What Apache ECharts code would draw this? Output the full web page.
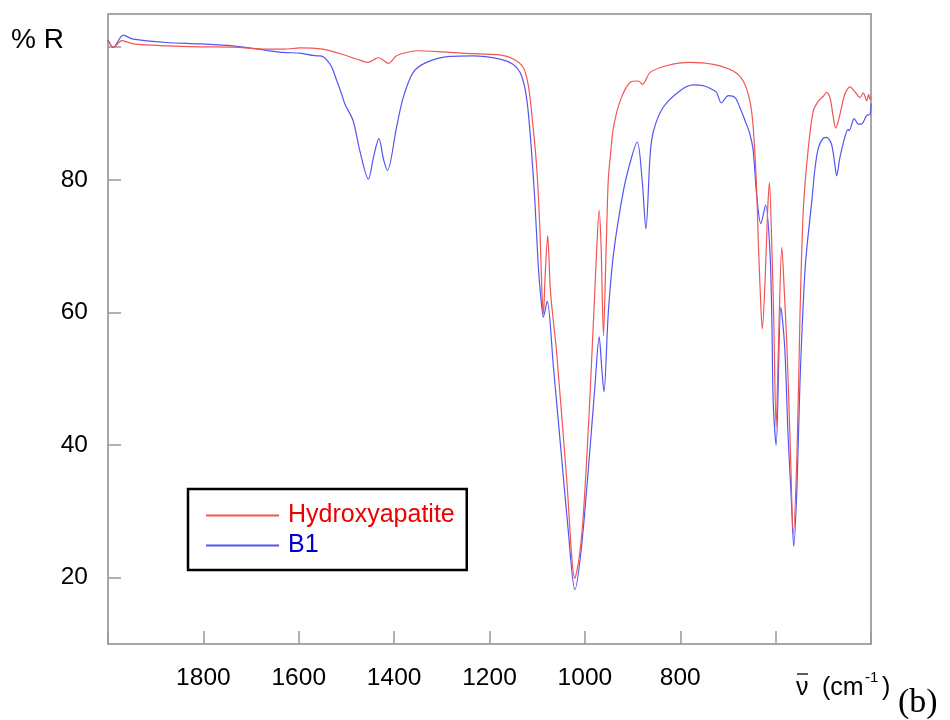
<!DOCTYPE html>
<html>
<head>
<meta charset="utf-8">
<script src="https://cdn.jsdelivr.net/npm/echarts@6/dist/echarts.min.js"></script>
<style>html,body{margin:0;padding:0;background:#fff}#c{width:950px;height:720px}</style>
</head>
<body>
<div id="c"></div>
<script>
// Hydroxyapatite (red)
const hapX = [2000,1989,1971,1947,1877,1807,1738,1667,1630,1597,1550,1513,1472,1454,1443,1433,1422,1412,1395,1374,1353,1300,1248,1178,1150,1129,1119,1112,1101,1094,1090,1087,1083,1078,1072,1059,1038,1021,1012,1003,989,975,970,966,961,956,951,946,940,926,905,888,879,863,829,780,731,689,668,654,647,640,636,631,628,622,617,613,608,604,599,593,587,581,576,569,563,555,549,542,532,521,510,500,493,486,479,474,465,455,444,433,423,416,409,405,402,400];
const hapY = [101.0,99.96,101.0,100.5,100.2,100.05,100.0,99.7,99.7,99.9,99.7,99.0,98.05,97.7,98.1,98.4,98.0,97.55,98.7,99.2,99.46,99.3,99.05,98.85,98.2,96.9,94.4,90.4,81.9,72.0,63.0,59.8,66.0,71.6,63.0,53.8,34.7,19.9,23.0,29.7,47.8,69.8,75.4,70.0,56.5,68.0,79.9,84.0,87.9,91.9,94.7,94.9,94.4,96.2,97.2,97.7,97.4,96.4,94.9,91.9,87.9,78.9,70.0,61.0,57.5,65.0,75.0,79.6,70.0,59.3,42.7,58.0,69.8,62.0,54.3,39.2,26.7,39.2,59.3,75.4,84.4,90.4,91.9,92.6,93.2,92.4,89.4,87.8,89.9,92.9,94.0,93.2,92.4,93.1,91.9,92.9,92.1,92.5];
// B1 (blue)
const b1X = [2000,1989,1968,1947,1877,1807,1738,1667,1632,1597,1562,1555,1534,1520,1510,1503,1486,1472,1454,1443,1432,1422,1414,1395,1381,1360,1332,1283,1234,1178,1150,1136,1126,1119,1112,1105,1098,1092,1087,1079,1066,1052,1035,1021,1007,989,979,970,965,960,951,940,919,902,890,880,872,863,856,836,801,773,752,738,724,714,699,685,675,664,654,647,640,631,621,612,608,605,599,589,581,574,567,562,555,549,538,524,517,510,500,493,483,476,472,465,455,448,446,437,435,427,420,409,402,400];
const b1Y = [101.1,99.96,101.8,101.2,100.7,100.5,100.2,99.5,99.2,99.1,98.7,98.7,97.4,94.9,92.9,91.4,88.9,84.4,80.1,83.5,86.2,83.0,81.4,87.9,92.4,96.2,97.7,98.6,98.7,98.2,97.4,96.2,93.9,90.4,84.4,77.0,67.3,62.0,59.3,61.7,51.8,40.7,27.2,18.2,24.7,39.7,48.8,56.3,52.0,48.0,59.8,68.8,78.4,83.4,85.7,80.0,72.6,83.9,87.4,90.9,93.4,94.3,94.2,93.8,93.2,91.6,92.7,92.4,90.9,88.9,86.9,84.4,77.9,73.4,76.2,69.3,59.3,46.3,40.0,60.8,54.8,41.7,31.7,24.7,34.2,49.3,66.8,76.9,82.0,84.9,86.3,86.4,85.4,82.4,80.6,83.4,86.4,87.6,87.4,89.1,89.2,88.4,88.4,89.7,89.9,91.5];
const xTickLabels = [1800,1600,1400,1200,1000,800];
const yTickValues = [20,40,60,80,100];
const yTickLabels = [20,40,60,80];

const zip = (xs, ys) => xs.map((x, i) => [x, ys[i]]);
const FONT = "'Liberation Sans', Arial, sans-serif";

const chart = echarts.init(document.getElementById('c'), null, {renderer: 'canvas'});
chart.setOption({
  animation: false,
  backgroundColor: '#fff',
  grid: {left: 108, top: 14, right: 79, bottom: 76, show: true, borderColor: '#a6a6a6', borderWidth: 2, backgroundColor: 'transparent'},
  xAxis: {
    type: 'value', inverse: true, min: 400, max: 2000, interval: 200,
    splitLine: {show: false},
    axisLine: {show: true, lineStyle: {color: '#a6a6a6', width: 2}},
    axisTick: {show: true, inside: true, length: 13, lineStyle: {color: '#999', width: 1.5}},
    axisLabel: {
      margin: 22, fontSize: 24.5, color: '#000', fontFamily: FONT,
      formatter: v => xTickLabels.indexOf(v) >= 0 ? String(v) : ''
    }
  },
  yAxis: {
    type: 'value', min: 10, max: 105,
    splitLine: {show: false},
    axisLine: {show: true, lineStyle: {color: '#a6a6a6', width: 2}},
    axisTick: {show: true, inside: true, length: 13, customValues: yTickValues, lineStyle: {color: '#999', width: 1.5}},
    axisLabel: {margin: 20, fontSize: 24.5, color: '#000', fontFamily: FONT, customValues: yTickLabels}
  },
  legend: {
    orient: 'vertical', left: 188, top: 489,
    padding: [14, 12, 12, 17],
    borderColor: '#000', borderWidth: 2.5, backgroundColor: '#fff',
    itemWidth: 73, itemHeight: 10, itemGap: 5,
    itemStyle: {opacity: 0},
    textStyle: {fontSize: 25, fontFamily: FONT, padding: [0, 0, 0, 4]},
    data: [
      {name: 'Hydroxyapatite', textStyle: {color: '#ee0000'}},
      {name: 'B1', textStyle: {color: '#0000cc'}}
    ]
  },
  series: [
    {name: 'Hydroxyapatite', type: 'line', data: zip(hapX, hapY), symbol: 'none', smooth: 0.3,
     lineStyle: {color: '#f25555', width: 1.2}, itemStyle: {color: '#f25555'}, z: 3},
    {name: 'B1', type: 'line', data: zip(b1X, b1Y), symbol: 'none', smooth: 0.3,
     lineStyle: {color: '#5555f2', width: 1.2}, itemStyle: {color: '#5555f2'}, z: 2}
  ],
  graphic: [
    {type: 'text', x: 11, y: 40, style: {text: '% R', fontSize: 28, fontFamily: FONT, fill: '#000', verticalAlign: 'middle'}},
    {type: 'text', x: 796, y: 688, style: {text: 'ν', fontSize: 25, fontFamily: FONT, fill: '#000', verticalAlign: 'middle'}},
    {type: 'line', shape: {x1: 797, y1: 674, x2: 808, y2: 674}, style: {stroke: '#000', lineWidth: 1.3}},
    {type: 'text', x: 822, y: 688, style: {text: '(cm', fontSize: 25, fontFamily: FONT, fill: '#000', verticalAlign: 'middle'}},
    {type: 'text', x: 865, y: 678, style: {text: '-1', fontSize: 15, fontFamily: FONT, fill: '#000', verticalAlign: 'middle'}},
    {type: 'text', x: 882, y: 688, style: {text: ')', fontSize: 25, fontFamily: FONT, fill: '#000', verticalAlign: 'middle'}},
    {type: 'text', x: 898, y: 703, style: {text: '(b)', fontSize: 34, fontFamily: "'Liberation Serif', 'Times New Roman', serif", fill: '#000', verticalAlign: 'middle'}}
  ]
});
</script>
</body>
</html>
